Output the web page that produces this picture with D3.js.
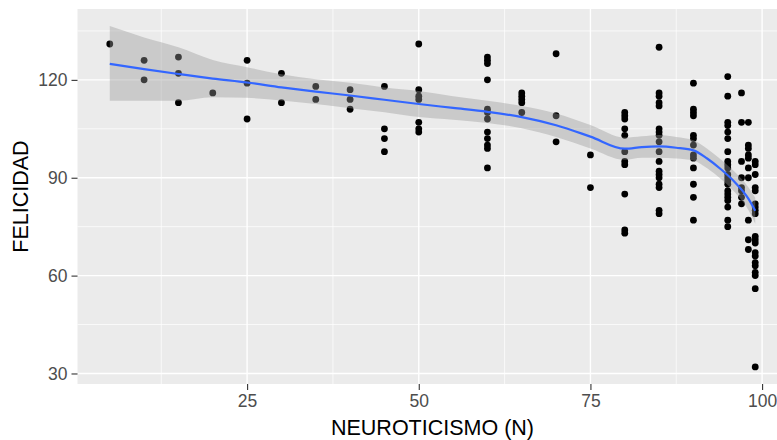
<!DOCTYPE html>
<html>
<head>
<meta charset="utf-8">
<script src="https://cdn.jsdelivr.net/npm/d3@7"></script>
<style>
  body { margin: 0; background: #fff; overflow: hidden; }
  text { font-family: "Liberation Sans", Arial, sans-serif; }
</style>
</head>
<body>
<div id="chart"></div>
<script>
//NEUROTICISMO values (x) and the FELICIDAD values found at each of them
let grupos = [5, 10, 15, 20, 25, 30, 35, 40, 45, 50, 60, 65, 70, 75, 80, 85, 90, 95, 97, 98, 99];
let felicidadPorGrupo = [
  [131],
  [126, 120],
  [127, 122, 113],
  [116],
  [126, 119, 108],
  [122, 113],
  [118, 114],
  [117, 114, 111],
  [118, 105, 102, 98],
  [131, 117, 115, 114, 107, 105, 104],
  [127, 126, 125, 120, 111, 110, 108, 104, 102, 100, 99, 93],
  [116, 115, 114, 113, 110],
  [128, 109, 101],
  [97, 87],
  [110, 109, 108, 105, 103, 98, 95, 94, 85, 74, 73],
  [130, 116, 115, 113, 112, 105, 104, 103, 101, 98, 95, 92, 91, 90, 88, 87, 80, 79],
  [119, 111, 110, 109, 103, 102, 100, 97, 96, 93, 88, 84, 77],
  [121, 115, 107, 106, 104, 102, 98, 95, 94, 93, 91, 90, 89, 88, 86, 85, 84, 83, 81, 77, 75],
  [116, 107, 95, 90, 87, 86, 84, 82],
  [107, 100, 99, 97, 96, 93, 90, 77, 71, 68],
  [95, 94, 91, 87, 86, 82, 81, 80, 79, 72, 71, 70, 67, 66, 64, 63, 61, 60, 56, 32]
];

//loess smooth (fit and confidence band)
let suaveX  = [5, 10, 15, 20, 25, 30, 35, 40, 45, 50, 55, 60, 65, 70, 75, 80, 82.5, 85, 87.5, 90, 92, 94, 96, 98, 99];
let suaveY  = [124.9, 123.3, 121.8, 120.4, 119.2, 117.7, 116.4, 115.2, 113.9, 112.6, 111.4, 110.2, 108.6, 106.1, 102.6, 98.9, 99.4, 99.6, 99.2, 98.4, 95.9, 92.6, 88.7, 83.6, 79.9];
let suaveLo = [113.6, 113.6, 113.6, 114.7, 114.5, 113.7, 112.6, 111.3, 110.1, 108.6, 107.8, 106.8, 105.2, 102.5, 99.0, 95.5, 96.1, 96.1, 95.9, 95.3, 92.9, 89.6, 85.6, 80.1, 75.9];
let suaveHi = [136.5, 133.0, 130.0, 126.1, 123.9, 121.7, 120.2, 119.1, 117.7, 116.6, 115.0, 113.6, 112.0, 109.7, 106.2, 102.3, 102.7, 103.1, 102.5, 101.5, 98.9, 95.6, 91.8, 87.1, 83.9];

let xTicks = [25, 50, 75, 100];
let yTicks = [30, 60, 90, 120];

(function(){
  'use strict';

  //flatten the groups into points
  let puntos = [];
  grupos.forEach(function(g, i) {
    felicidadPorGrupo[i].forEach(function(v) { puntos.push({ x: g, y: v }); });
  });
  let suave = suaveX.map(function(x, i) {
    return { x: x, y: suaveY[i], lo: suaveLo[i], hi: suaveHi[i] };
  });

  //panel box (right side runs past the window, as in the picture)
  let margin = {top: 9, left: 77.5};
  let panelW = 710, panelH = 375;

  //ggplot style 5% expansion of the data range
  function expand(ext) {
    let pad = (ext[1] - ext[0]) * 0.05;
    return [ext[0] - pad, ext[1] + pad];
  }
  let xExt = d3.extent(puntos, function(d) { return d.x; });
  let yExt = [
    Math.min(d3.min(puntos, function(d) { return d.y; }), d3.min(suaveLo)),
    Math.max(d3.max(puntos, function(d) { return d.y; }), d3.max(suaveHi))
  ];

  let x = d3.scaleLinear().domain(expand(xExt)).range([0, panelW]);
  let y = d3.scaleLinear().domain(expand(yExt)).range([panelH, 0]);

  let svg = d3.select("#chart").append("svg")
    .attr("width", 777)
    .attr("height", 440);

  let canvas = svg.append("g")
    .attr("transform", "translate(" + margin.left + "," + margin.top + ")");

  //grey panel
  canvas.append("rect")
    .attr("width", panelW)
    .attr("height", panelH)
    .attr("fill", "#EBEBEB");

  //minor grid lines (half way between the breaks)
  let xMinor = [12.5, 37.5, 62.5, 87.5];
  let yMinor = [45, 75, 105, 135];

  canvas.selectAll(".xminor")
    .data(xMinor)
    .enter()
    .append("line")
      .attr("x1", function(d) { return x(d); })
      .attr("x2", function(d) { return x(d); })
      .attr("y1", 0)
      .attr("y2", panelH)
      .attr("stroke", "#fff")
      .attr("stroke-width", 0.7);

  canvas.selectAll(".yminor")
    .data(yMinor)
    .enter()
    .append("line")
      .attr("x1", 0)
      .attr("x2", panelW)
      .attr("y1", function(d) { return y(d); })
      .attr("y2", function(d) { return y(d); })
      .attr("stroke", "#fff")
      .attr("stroke-width", 0.7);

  //major grid lines
  canvas.selectAll(".xmajor")
    .data(xTicks)
    .enter()
    .append("line")
      .attr("x1", function(d) { return x(d); })
      .attr("x2", function(d) { return x(d); })
      .attr("y1", 0)
      .attr("y2", panelH)
      .attr("stroke", "#fff")
      .attr("stroke-width", 1.4);

  canvas.selectAll(".ymajor")
    .data(yTicks)
    .enter()
    .append("line")
      .attr("x1", 0)
      .attr("x2", panelW)
      .attr("y1", function(d) { return y(d); })
      .attr("y2", function(d) { return y(d); })
      .attr("stroke", "#fff")
      .attr("stroke-width", 1.4);

  //points first, the band goes on top of them like in ggplot
  canvas.selectAll(".punto")
    .data(puntos)
    .enter()
    .append("circle")
      .attr("class", "punto")
      .attr("cx", function(d) { return x(d.x); })
      .attr("cy", function(d) { return y(d.y); })
      .attr("r", 3.4)
      .attr("fill", "#000");

  let banda = d3.area()
    .x(function(d) { return x(d.x); })
    .y0(function(d) { return y(d.lo); })
    .y1(function(d) { return y(d.hi); })
    .curve(d3.curveMonotoneX);

  canvas.append("path")
    .datum(suave)
    .attr("d", banda)
    .attr("fill", "#999999")
    .attr("fill-opacity", 0.4);

  let linea = d3.line()
    .x(function(d) { return x(d.x); })
    .y(function(d) { return y(d.y); })
    .curve(d3.curveMonotoneX);

  canvas.append("path")
    .datum(suave)
    .attr("d", linea)
    .attr("fill", "none")
    .attr("stroke", "#3366FF")
    .attr("stroke-width", 2.2);

  //axes
  let xAxis = canvas.append("g")
    .attr("transform", "translate(0," + panelH + ")")
    .call(d3.axisBottom(x).tickValues(xTicks).tickSize(6).tickPadding(5));

  let yAxis = canvas.append("g")
    .call(d3.axisLeft(y).tickValues(yTicks).tickSize(6).tickPadding(4));

  [xAxis, yAxis].forEach(function(a) {
    a.select(".domain").remove();
    a.selectAll(".tick line").attr("stroke", "#333333").attr("stroke-width", 1.1);
    a.selectAll(".tick text")
      .attr("fill", "#4D4D4D")
      .style("font-size", "17.5px")
      .style("font-family", "'Liberation Sans', Arial, sans-serif");
  });

  //axis titles
  svg.append("text")
    .attr("x", margin.left + panelW / 2)
    .attr("y", 435)
    .attr("text-anchor", "middle")
    .style("font-size", "21.5px")
    .attr("fill", "#000")
    .text("NEUROTICISMO (N)");

  svg.append("text")
    .attr("transform", "translate(28," + (margin.top + panelH / 2) + ") rotate(-90)")
    .attr("text-anchor", "middle")
    .style("font-size", "21.5px")
    .attr("fill", "#000")
    .text("FELICIDAD");

})();
</script>
</body>
</html>
